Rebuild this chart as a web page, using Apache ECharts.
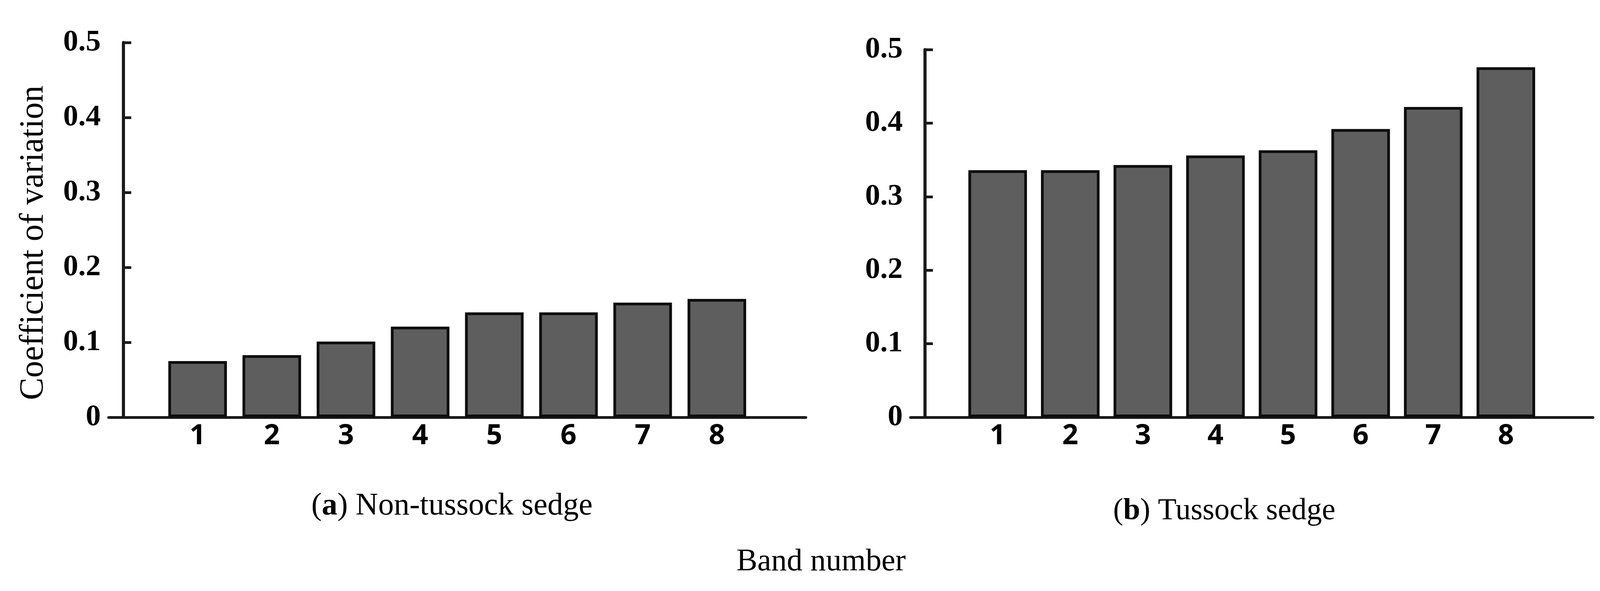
<!DOCTYPE html>
<html>
<head>
<meta charset="utf-8">
<title>Coefficient of variation by band</title>
<script src="https://cdn.jsdelivr.net/npm/echarts@6/dist/echarts.min.js"></script>
<style>
    html, body { margin: 0; padding: 0; background: #fff; }
    #main { width: 4131px; height: 1514px; }
</style>
</head>
<body>
<div id="main"></div>
<script>
// band numbers on the x axis
var bands = [1, 2, 3, 4, 5, 6, 7, 8];
// coefficient of variation, (a) non-tussock sedge
var cvNonTussock = [0.075, 0.083, 0.101, 0.121, 0.140, 0.140, 0.153, 0.158];
// coefficient of variation, (b) tussock sedge
var cvTussock = [0.336, 0.336, 0.343, 0.356, 0.363, 0.392, 0.422, 0.476];
var yTicks = [0, 0.1, 0.2, 0.3, 0.4, 0.5];

function pairs(values) {
    return bands.map(function (b, i) {
        return [b, values[i]];
    });
}

function xAxisFor(idx) {
    return {
        type: 'value',
        gridIndex: idx,
        min: -0.2,
        max: 9.2,
        splitLine: {show: false},
        axisLine: {show: true, onZero: false, lineStyle: {color: '#1a1a1a', width: 7}},
        axisTick: {show: true, inside: true, length: 16, customValues: bands, lineStyle: {color: '#1a1a1a', width: 6}},
        axisLabel: {
            customValues: bands,
            margin: 12,
            color: '#000',
            fontFamily: 'Open Sans',
            fontWeight: 'bold',
            fontSize: 72
        }
    };
}

function yAxisFor(idx) {
    return {
        type: 'value',
        gridIndex: idx,
        min: yTicks[0],
        max: yTicks[yTicks.length - 1],
        interval: 0.1,
        splitLine: {show: false},
        axisLine: {show: true, lineStyle: {color: '#1a1a1a', width: 8}},
        axisTick: {show: true, inside: true, length: 20, lineStyle: {color: '#1a1a1a', width: 7}},
        axisLabel: {
            margin: 20,
            color: '#000',
            fontFamily: 'Liberation Serif',
            fontWeight: 'bold',
            fontSize: 77,
            formatter: function (v) { return String(+v.toFixed(1)); }
        }
    };
}

function barSeries(idx, values) {
    return {
        type: 'bar',
        xAxisIndex: idx,
        yAxisIndex: idx,
        data: pairs(values),
        barWidth: 150,
        itemStyle: {color: '#5e5e5e', borderColor: '#0d0d0d', borderWidth: 7},
        z: 1
    };
}

var dom = document.getElementById('main');
var chart = echarts.init(dom, null, {renderer: 'canvas'});
var option;

var textStyleBase = {
    fontFamily: 'Liberation Serif',
    fill: '#000',
    align: 'center',
    verticalAlign: 'middle'
};

option = {
    backgroundColor: '#fff',
    animation: false,
    grid: [
        {left: 278, right: 2068, top: 109, bottom: 445},
        {left: 2331, right: 53, top: 127, bottom: 445}
    ],
    xAxis: [xAxisFor(0), xAxisFor(1)],
    yAxis: [yAxisFor(0), yAxisFor(1)],
    series: [barSeries(0, cvNonTussock), barSeries(1, cvTussock)],
    graphic: [
        {
            type: 'text',
            x: 86,
            y: 622,
            rotation: Math.PI / 2,
            style: Object.assign({}, textStyleBase, {text: 'Coefficient of variation', fontSize: 86})
        },
        {
            type: 'text',
            x: 1157,
            y: 1297,
            style: Object.assign({}, textStyleBase, {
                text: '({b|a}) Non-tussock sedge',
                fontSize: 80,
                rich: {b: {fontFamily: 'Liberation Serif', fontWeight: 'bold', fontSize: 80}}
            })
        },
        {
            type: 'text',
            x: 3134,
            y: 1310,
            style: Object.assign({}, textStyleBase, {
                text: '({b|b}) Tussock sedge',
                fontSize: 78,
                rich: {b: {fontFamily: 'Liberation Serif', fontWeight: 'bold', fontSize: 78}}
            })
        },
        {
            type: 'text',
            x: 2102,
            y: 1440,
            style: Object.assign({}, textStyleBase, {text: 'Band number', fontSize: 80})
        }
    ]
};

if (option && typeof option === 'object') {
    chart.setOption(option);
}

window.addEventListener('resize', function () {
    chart.resize();
});
</script>
</body>
</html>
